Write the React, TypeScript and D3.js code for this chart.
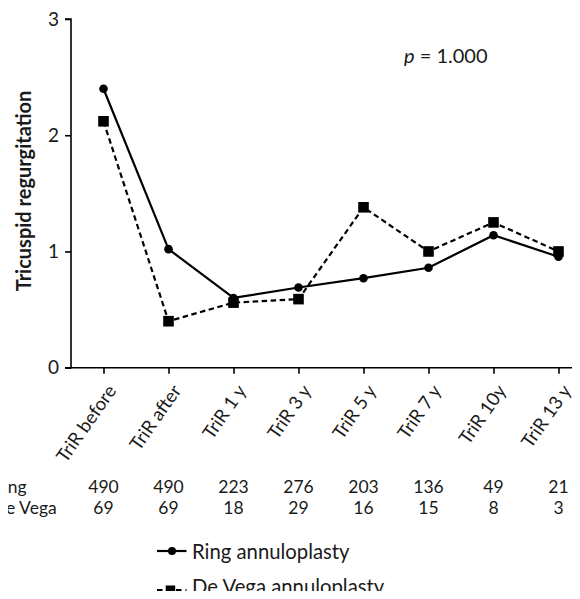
import React, { useEffect, useRef } from 'react';
import * as d3 from 'd3';

// data
const categories = ['TriR before', 'TriR after', 'TriR 1 y', 'TriR 3 y', 'TriR 5 y', 'TriR 7 y', 'TriR 10y', 'TriR 13 y'];
const ringValues = [2.4, 1.02, 0.6, 0.69, 0.77, 0.86, 1.14, 0.955];
const deVegaValues = [2.12, 0.4, 0.56, 0.59, 1.38, 1.0, 1.25, 1.0];
const ringCounts = [490, 490, 223, 276, 203, 136, 49, 21];
const deVegaCounts = [69, 69, 18, 29, 16, 15, 8, 3];
const yTicks = [0, 1, 2, 3];

const W = 580;
const H = 599;
const FONT = 'Lato, "Open Sans", sans-serif';
const INK = '#1a1a1a';

function App() {
	const ref = useRef<SVGSVGElement>(null);

	useEffect(() => {
		const svg = d3.select(ref.current);
		svg.selectAll('*').remove();

		const x = d3.scalePoint<string>().domain(categories).range([71, 591]).padding(0.5);
		const y = d3.scaleLinear().domain([0, 3]).range([367.7, 19]);

		// y axis
		const yAxis = svg.append('g').attr('transform', 'translate(71,0)')
			.call(d3.axisLeft(y).tickValues(yTicks).tickFormat(d3.format('d')).tickSize(6).tickPadding(6));
		yAxis.select('.domain').attr('stroke-width', 1.6).attr('d', 'M-6,19H0V367.7H-6');
		yAxis.selectAll('.tick line').attr('stroke-width', 1.6);
		yAxis.selectAll('.tick text').attr('font-family', FONT).attr('font-size', 19).attr('fill', INK);

		// x axis
		const xAxis = svg.append('g').attr('transform', 'translate(0,367.7)')
			.call(d3.axisBottom(x).tickSize(6));
		xAxis.select('.domain').attr('stroke-width', 1.6).attr('d', 'M71,0H591');
		xAxis.selectAll('.tick line').attr('stroke-width', 1.6);
		xAxis.selectAll('.tick text')
			.attr('font-family', FONT).attr('font-size', 18.5).attr('fill', INK)
			.attr('text-anchor', 'end')
			.attr('x', 0).attr('y', 0).attr('dy', 0)
			.attr('transform', 'translate(13,23) rotate(-55)');

		// y label
		svg.append('text')
			.attr('transform', `translate(31,191) rotate(-90)`)
			.attr('text-anchor', 'middle')
			.attr('font-family', FONT).attr('font-size', 20).attr('font-weight', 'bold').attr('fill', INK)
			.text('Tricuspid regurgitation');

		// p value
		const pv = svg.append('text').attr('x', 404).attr('y', 63)
			.attr('font-family', FONT).attr('font-size', 20).attr('fill', INK);
		pv.append('tspan').attr('font-style', 'italic').text('p');
		pv.append('tspan').text(' = 1.000');

		const line = d3.line<number>().x((_, i) => x(categories[i])!).y(d => y(d));

		// De Vega (dashed, squares)
		svg.append('path').datum(deVegaValues).attr('d', line)
			.attr('fill', 'none').attr('stroke', '#000').attr('stroke-width', 2.2).attr('stroke-dasharray', '5.5,3.5');
		svg.append('g').selectAll('rect').data(deVegaValues).join('rect')
			.attr('x', (_, i) => x(categories[i])! - 5.3).attr('y', d => y(d) - 5.3)
			.attr('width', 10.6).attr('height', 10.6).attr('fill', '#000');

		// Ring (solid, circles)
		svg.append('path').datum(ringValues).attr('d', line)
			.attr('fill', 'none').attr('stroke', '#000').attr('stroke-width', 2.2);
		svg.append('g').selectAll('circle').data(ringValues).join('circle')
			.attr('cx', (_, i) => x(categories[i])!).attr('cy', d => y(d))
			.attr('r', 4.3).attr('fill', '#000');

		// counts table (row labels run off the left edge, as in the source)
		const rows = [
			{ label: 'Ring', counts: ringCounts, y: 492.5, labelEnd: 26.7 },
			{ label: 'De Vega', counts: deVegaCounts, y: 514.3, labelEnd: 56.7 },
		];
		rows.forEach(r => {
			svg.append('text').attr('x', r.labelEnd).attr('y', r.y).attr('text-anchor', 'end')
				.attr('font-family', FONT).attr('font-size', 17.5).attr('fill', INK).text(r.label);
			svg.append('g').selectAll('text').data(r.counts).join('text')
				.attr('x', (_, i) => x(categories[i])!).attr('y', r.y)
				.attr('text-anchor', 'middle')
				.attr('font-family', FONT).attr('font-size', 17.5).attr('fill', INK)
				.text(d => d);
		});

		// legend
		const lg = svg.append('g');
		lg.append('line').attr('x1', 157).attr('x2', 186.5).attr('y1', 551).attr('y2', 551)
			.attr('stroke', '#000').attr('stroke-width', 2.2);
		lg.append('circle').attr('cx', 172).attr('cy', 551).attr('r', 4).attr('fill', '#000');
		lg.append('text').attr('x', 192).attr('y', 559)
			.attr('font-family', FONT).attr('font-size', 20.3).attr('fill', INK).text('Ring annuloplasty');
		lg.append('line').attr('x1', 157).attr('x2', 186.5).attr('y1', 590).attr('y2', 590)
			.attr('stroke', '#000').attr('stroke-width', 2.2).attr('stroke-dasharray', '5.5,4');
		lg.append('rect').attr('x', 165.7).attr('y', 585.5).attr('width', 9.5).attr('height', 9.5).attr('fill', '#000');
		lg.append('text').attr('x', 192).attr('y', 594)
			.attr('font-family', FONT).attr('font-size', 20.3).attr('fill', INK).text('De Vega annuloplasty');
	}, []);

	return (
		<div style={{ margin: -8 }}>
			<svg ref={ref} width={W} height={H} style={{ display: 'block', background: '#fff' }} />
		</div>
	);
}

export default App;
